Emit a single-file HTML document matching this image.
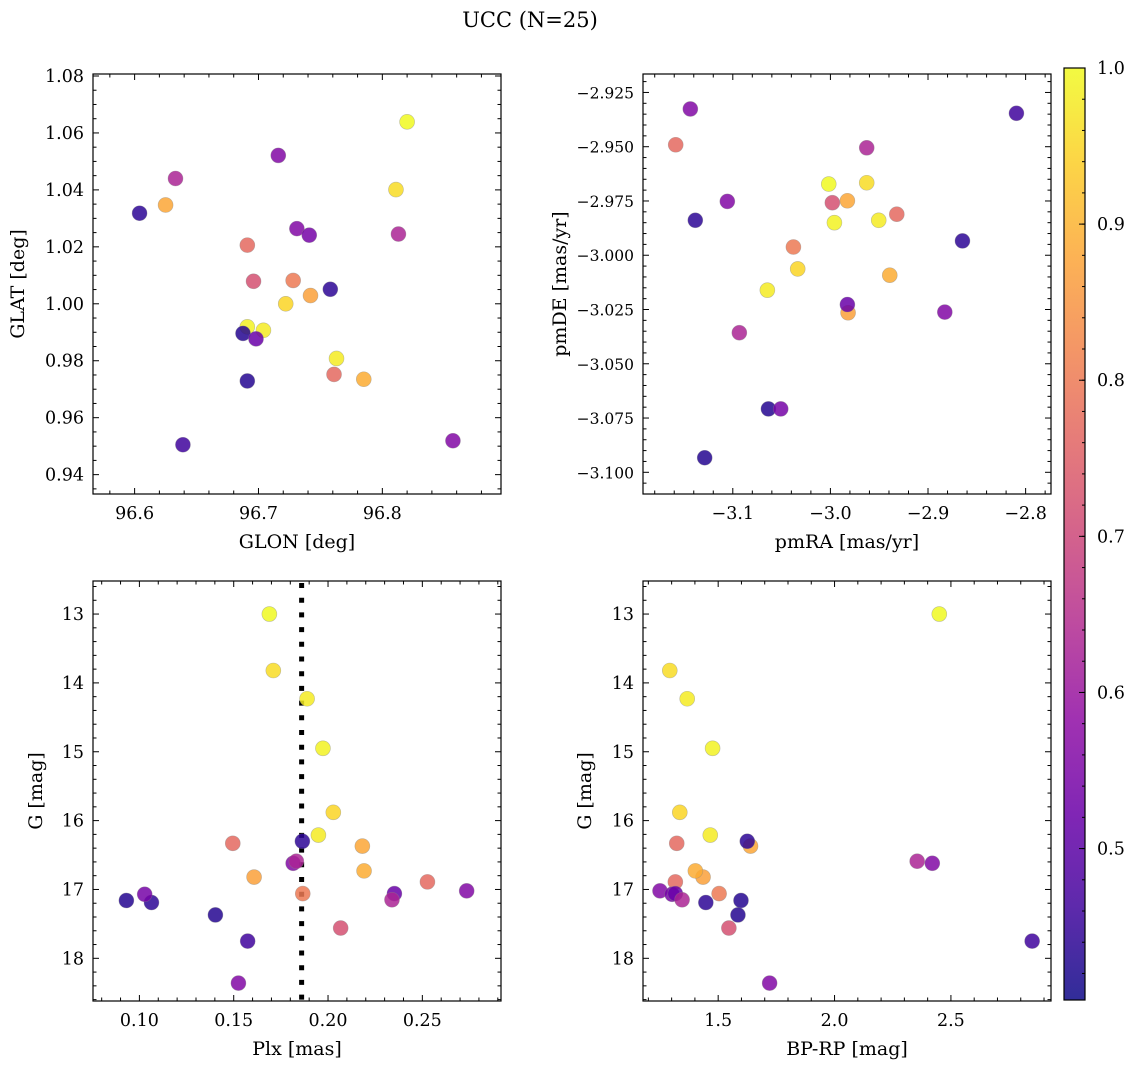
<!DOCTYPE html>
<html><head><meta charset="utf-8"><style>
html,body{margin:0;padding:0;background:#fff;}
svg{display:block;font-family:"DejaVu Serif","Liberation Serif",serif;}
</style></head><body>
<svg id="fig" width="1136" height="1068" viewBox="0 0 1136 1068" xmlns="http://www.w3.org/2000/svg">
<rect width="1136" height="1068" fill="#fff"/>
<text x="530" y="27" font-size="21" text-anchor="middle">UCC (N=25)</text>
</svg>
<script>
// ---- data (one entry per star) ----
const glon = [96.820,96.811,96.763,96.691,96.722,96.704,96.625,96.742,96.785,96.691,96.761,96.728,96.696,96.758,96.6875,96.604,96.691,96.639,96.716,96.633,96.731,96.741,96.698,96.813,96.857];
const glat = [1.0639,1.0401,0.9808,0.9919,1.0000,0.9907,1.0347,1.0029,0.9735,1.0206,0.9752,1.0082,1.0079,1.0051,0.9896,1.0318,0.9729,0.9505,1.0521,1.0440,1.0264,1.0241,0.9877,1.0245,0.9519];
const pmra = [-3.0017,-2.9628,-3.0646,-2.9959,-3.0335,-2.9505,-2.9826,-2.9819,-2.9392,-3.1585,-2.9320,-3.0379,-2.9980,-2.8647,-3.1288,-3.1384,-3.0635,-2.8094,-3.1435,-3.0933,-3.1056,-3.0509,-2.9826,-2.9628,-2.8828];
const pmde = [-2.9672,-2.9666,-3.0161,-2.9850,-3.0063,-2.9839,-2.9749,-3.0265,-3.0092,-2.9491,-2.9811,-2.9962,-2.9758,-2.9934,-3.0933,-2.9839,-3.0708,-2.9346,-2.9326,-3.0357,-2.9752,-3.0708,-3.0227,-2.9505,-3.0262];
const plx  = [0.1689,0.1710,0.1889,0.1973,0.2028,0.1949,0.2182,0.1608,0.2191,0.1495,0.2527,0.1866,0.2067,0.1864,0.0931,0.1064,0.1403,0.1574,0.1815,0.1832,0.2735,0.1028,0.2352,0.2339,0.1525];
const gmag = [13.00,13.82,14.23,14.95,15.88,16.21,16.37,16.82,16.73,16.33,16.89,17.06,17.56,16.30,17.16,17.19,17.37,17.75,16.62,16.59,17.02,17.07,17.06,17.15,18.36];
const bprp = [2.450,1.292,1.367,1.476,1.335,1.466,1.639,1.435,1.402,1.322,1.316,1.504,1.546,1.625,1.598,1.447,1.585,2.849,2.420,2.355,1.250,1.302,1.316,1.345,1.721];
const prob = [1.00,0.96,0.98,0.99,0.95,0.98,0.88,0.87,0.89,0.77,0.77,0.80,0.72,0.44,0.43,0.44,0.43,0.46,0.56,0.63,0.56,0.54,0.52,0.63,0.56];
const plxMedian = 0.186;
const probMin = 0.403, probMax = 1.0;
const cbTicks = [0.5,0.6,0.7,0.8,0.9,1.0];

const NS="http://www.w3.org/2000/svg";
const svg=document.getElementById('fig');
const TICKFS=17.5, LABFS=19;
function mk(tag,attrs,parent){const e=document.createElementNS(NS,tag);for(const k in attrs)e.setAttribute(k,attrs[k]);(parent||svg).appendChild(e);return e;}
const plasma=["#0d0887","#41049d","#6a00a8","#8f0da4","#b12a90","#cc4778","#e16462","#f2844b","#fca636","#fcce25","#f0f921"];
function hex(h){return [parseInt(h.substr(1,2),16),parseInt(h.substr(3,2),16),parseInt(h.substr(5,2),16)];}
function cmap(t){t=Math.max(0,Math.min(1,t));const f=t*10,i=Math.min(9,Math.floor(f)),r=f-i;const a=hex(plasma[i]),b=hex(plasma[i+1]);
 return 'rgb('+a.map((v,k)=>Math.round(v+(b[k]-v)*r)).join(',')+')';}
function norm(p){return (p-probMin)/(probMax-probMin);}
function fmtMinus(s){return s.replace('-','\u2212');}

function panel(cfg){
 const {x0,y0,w,h,xd,yd,xinv,yinv,xs,ys,name}=cfg;
 const yfs=cfg.yfs||TICKFS;
 const g=mk('g',{},svg);
 
 
 const X=v=>xinv? x0+w-(v-xd[0])/(xd[1]-xd[0])*w : x0+(v-xd[0])/(xd[1]-xd[0])*w;
 const Y=v=>yinv? y0+(v-yd[0])/(yd[1]-yd[0])*h : y0+h-(v-yd[0])/(yd[1]-yd[0])*h;
 cfg.X=X;cfg.Y=Y;cfg.g=g;
 function ticks(domain,step,minorDiv,isX,labelFmt){
  const lo=Math.min(domain[0],domain[1]),hi=Math.max(domain[0],domain[1]);
  const ms=step/minorDiv;
  let start=Math.ceil(lo/ms-1e-6);
  for(let k=start;k*ms<=hi+1e-9;k++){
   const v=k*ms; const major=Math.abs(v/step-Math.round(v/step))<1e-6; const L=major?6:3.5;
   if(isX){const px=X(v);
    mk('line',{x1:px,x2:px,y1:y0+h,y2:y0+h-L,stroke:'#000','stroke-width':1},g);
    mk('line',{x1:px,x2:px,y1:y0,y2:y0+L,stroke:'#000','stroke-width':1},g);
    if(major){const t=mk('text',{x:px,y:y0+h+25,'font-size':TICKFS,'text-anchor':'middle'},g);t.textContent=fmtMinus(labelFmt(v));
     
     }
   }else{const py=Y(v);
    mk('line',{x1:x0,x2:x0+L,y1:py,y2:py,stroke:'#000','stroke-width':1},g);
    mk('line',{x1:x0+w,x2:x0+w-L,y1:py,y2:py,stroke:'#000','stroke-width':1},g);
    if(major){const t=mk('text',{x:x0-9,y:py+6,'font-size':yfs,'text-anchor':'end'},g);t.textContent=fmtMinus(labelFmt(v));
     
     }
   }
  }
 }
 ticks(xd,xs[0],xs[1],true,xs[2]);
 ticks(yd,ys[0],ys[1],false,ys[2]);
 const f=mk('rect',{x:x0,y:y0,width:w,height:h,fill:'none',stroke:'#000','stroke-width':1.2},g);
 
 
 const xl=mk('text',{x:x0+w/2,y:y0+h+54,'font-size':LABFS,'text-anchor':'middle'},g);xl.textContent=cfg.xl;
 
 
 const yl=mk('text',{x:0,y:0,'font-size':LABFS,'text-anchor':'middle',transform:'translate('+cfg.ylx+','+(y0+h/2)+') rotate(-90)'},g);yl.textContent=cfg.yl;
 
 
 return cfg;
}
function scatter(cfg,xs,ys){
 for(let i=0;i<xs.length;i++){
  const c=mk('circle',{cx:cfg.X(xs[i]),cy:cfg.Y(ys[i]),r:7.5,fill:cmap(norm(prob[i])),'fill-opacity':0.85,stroke:'#888','stroke-opacity':0.5,'stroke-width':0.6},cfg.g);
  
  
 }
}
const f2=v=>v.toFixed(2), f1=v=>v.toFixed(1), f3=v=>v.toFixed(3), f0=v=>v.toFixed(0);
const p1=panel({name:'glon-glat',x0:93,y0:74,w:408,h:420,xd:[96.5664,96.8958],yd:[0.9332,1.0807],xs:[0.1,5,f1],ys:[0.02,4,f2],xl:'GLON [deg]',yl:'GLAT [deg]',ylx:24});
scatter(p1,glon,glat);
const p2=panel({name:'pm',x0:643,y0:74,w:408,h:420,xd:[-3.192,-2.774],yd:[-3.110,-2.9165],xs:[0.1,5,f1],ys:[0.025,5,f3],yfs:15.5,xl:'pmRA [mas/yr]',yl:'pmDE [mas/yr]',ylx:566});
scatter(p2,pmra,pmde);
const p3=panel({name:'plx-g',x0:93,y0:581,w:408,h:420,xd:[0.0754,0.2917],yd:[12.52,18.62],yinv:true,xs:[0.05,5,f2],ys:[1,5,f0],xl:'Plx [mas]',yl:'G [mag]',ylx:42});
const dl=mk('line',{x1:p3.X(plxMedian),x2:p3.X(plxMedian),y1:583,y2:1000,stroke:'#000','stroke-width':5,'stroke-dasharray':'5,9.7'},p3.g);


scatter(p3,plx,gmag);
const p4=panel({name:'cmd',x0:643,y0:581,w:408,h:420,xd:[1.177,2.930],yd:[12.52,18.62],yinv:true,xs:[0.5,5,f1],ys:[1,5,f0],xl:'BP-RP [mag]',yl:'G [mag]',ylx:591});
scatter(p4,bprp,gmag);

// colorbar
const cb=mk('g',{},svg);


const defs=mk('defs',{},svg);
const lg=mk('linearGradient',{id:'pl',x1:0,y1:1,x2:0,y2:0},defs);
for(let k=0;k<=20;k++){const t=k/20;mk('stop',{offset:t,'stop-color':cmap(t),'stop-opacity':0.85},lg);}
const cbx=1064,cby=68,cbw=21,cbh=932;
mk('rect',{x:cbx,y:cby,width:cbw,height:cbh,fill:'url(#pl)'},cb);
mk('rect',{x:cbx,y:cby,width:cbw,height:cbh,fill:'none',stroke:'#000','stroke-width':1.2},cb);
const CY=v=>cby+cbh-(v-probMin)/(probMax-probMin)*cbh;
for(let v=0.42;v<=1.0001;v+=0.02){const py=CY(v);mk('line',{x1:cbx+cbw,x2:cbx+cbw-3,y1:py,y2:py,stroke:'#000','stroke-width':1},cb);}
cbTicks.forEach(v=>{const py=CY(v);mk('line',{x1:cbx+cbw,x2:cbx+cbw-6,y1:py,y2:py,stroke:'#000','stroke-width':1},cb);
 const t=mk('text',{x:cbx+cbw+12,y:py+6,'font-size':TICKFS},cb);t.textContent=v.toFixed(1);
 
 });
</script>
</body></html>
